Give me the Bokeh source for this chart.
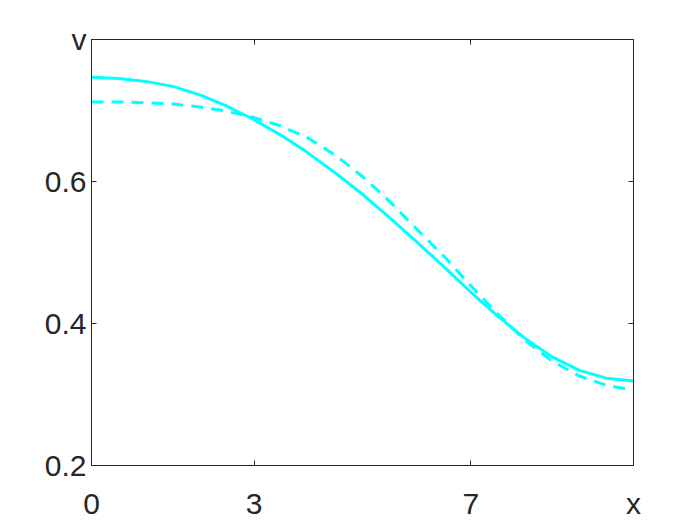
from bokeh.plotting import figure
from bokeh.models import LinearAxis, FixedTicker, Range1d
from bokeh.embed import file_html
from bokeh.resources import INLINE

# sampled positions along x
x_vals = [0.0, 0.5, 1.0, 1.5, 2.0, 2.5, 3.0, 3.5, 4.0, 4.5, 5.0,
          5.5, 6.0, 6.5, 7.0, 7.5, 8.0, 8.5, 9.0, 9.5, 10.0]
# solid curve values
v_solid = [0.747, 0.745, 0.741, 0.734, 0.722, 0.706, 0.687, 0.665, 0.640, 0.612, 0.582,
           0.549, 0.515, 0.480, 0.444, 0.410, 0.379, 0.353, 0.334, 0.323, 0.319]
# dashed curve values
v_dashed = [0.712, 0.712, 0.711, 0.709, 0.705, 0.699, 0.690, 0.678, 0.661, 0.637, 0.607,
            0.572, 0.533, 0.495, 0.453, 0.413, 0.376, 0.347, 0.326, 0.313, 0.306]

x_ticks = [0, 3, 7, 10]
x_tick_labels = ["0", "3", "7", "x"]
y_ticks = [0.2, 0.4, 0.6, 0.8]
y_tick_labels = ["0.2", "0.4", "0.6", "v"]

AX = "#262626"
FONT = "Liberation Sans"
FS = "30px"

p = figure(width=692, height=522, x_range=Range1d(0, 10), y_range=Range1d(0.2, 0.8),
           output_backend="svg", toolbar_location=None,
           min_border_left=91, min_border_top=39, min_border_right=59, min_border_bottom=56)
p.grid.visible = False
p.outline_line_color = AX
p.outline_line_width = 1
p.background_fill_color = "white"
p.border_fill_color = "white"

def style(ax, ticks, labels, show_labels):
    ax.ticker = FixedTicker(ticks=ticks)
    ax.axis_line_color = AX
    ax.axis_line_width = 1
    ax.major_tick_line_color = AX
    ax.major_tick_in = 5
    ax.major_tick_out = 0
    ax.minor_tick_line_color = None
    ax.major_label_text_font = FONT
    ax.major_label_text_color = AX
    ax.major_label_text_font_size = FS
    if show_labels:
        ax.major_label_overrides = {t: l for t, l in zip(ticks, labels)}
    else:
        ax.major_label_overrides = {t: "" for t in ticks}
        ax.major_label_standoff = 0

xa = p.xaxis[0]
ya = p.yaxis[0]
style(xa, x_ticks, x_tick_labels, True)
style(ya, y_ticks, y_tick_labels, True)
xa.major_label_standoff = 21
ya.major_label_standoff = 5

top = LinearAxis()
right = LinearAxis()
style(top, x_ticks, x_tick_labels, False)
style(right, y_ticks, y_tick_labels, False)
p.add_layout(top, "above")
p.add_layout(right, "right")

p.line(x_vals, v_solid, line_color="#00FFFF", line_width=3)
p.line(x_vals, v_dashed, line_color="#00FFFF", line_width=3, line_dash="12 8")

open("out.html", "w").write(file_html(p, INLINE))
